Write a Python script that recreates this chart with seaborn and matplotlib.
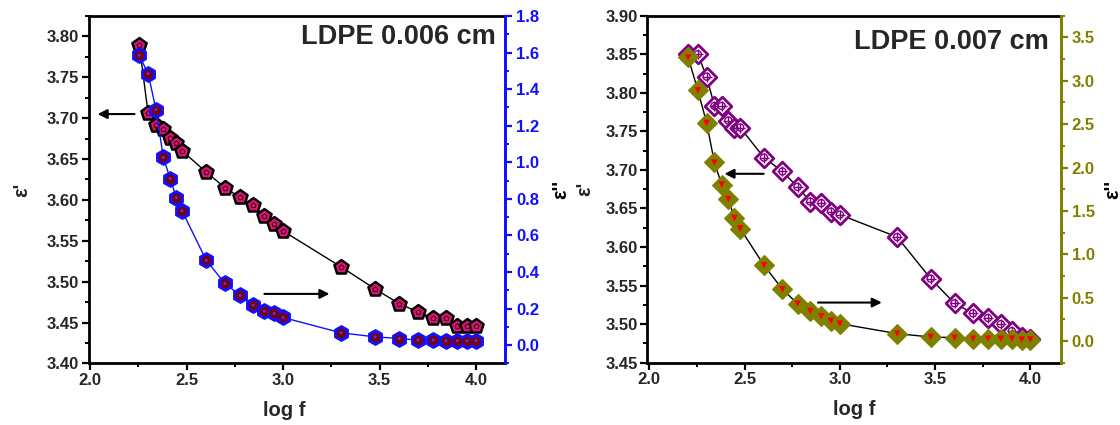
import numpy as np
import pandas as pd
import matplotlib
matplotlib.use("Agg")
import matplotlib.pyplot as plt
import seaborn as sns
from matplotlib.ticker import MultipleLocator, FormatStrFormatter

# ---------------- data ----------------
logf_006 = [2.255, 2.301, 2.342, 2.380, 2.415, 2.447, 2.477, 2.602, 2.699, 2.778,
            2.845, 2.903, 2.954, 3.000, 3.301, 3.477, 3.602, 3.699, 3.778, 3.845,
            3.903, 3.954, 4.000]
eps1_006 = [3.790, 3.706, 3.692, 3.687, 3.676, 3.669, 3.660, 3.634, 3.615, 3.603,
            3.594, 3.580, 3.571, 3.562, 3.518, 3.491, 3.473, 3.463, 3.455, 3.455,
            3.446, 3.446, 3.446]
eps2_006 = [1.585, 1.485, 1.288, 1.026, 0.911, 0.807, 0.734, 0.464, 0.337, 0.273,
            0.219, 0.186, 0.173, 0.151, 0.067, 0.045, 0.036, 0.027, 0.027, 0.024,
            0.024, 0.024, 0.024]

logf_007 = [2.204, 2.255, 2.301, 2.342, 2.380, 2.415, 2.447, 2.477, 2.602, 2.699,
            2.778, 2.845, 2.903, 2.954, 3.000, 3.301, 3.477, 3.602, 3.699, 3.778,
            3.845, 3.903, 3.954, 4.000]
eps1_007 = [3.850, 3.850, 3.821, 3.783, 3.783, 3.764, 3.754, 3.755, 3.716, 3.698,
            3.678, 3.659, 3.657, 3.646, 3.642, 3.613, 3.559, 3.527, 3.514, 3.508,
            3.500, 3.491, 3.483, 3.481]
eps2_007 = [3.27, 2.89, 2.515, 2.058, 1.804, 1.635, 1.419, 1.297, 0.873, 0.596,
            0.431, 0.346, 0.285, 0.231, 0.200, 0.085, 0.046, 0.039, 0.027, 0.027,
            0.027, 0.027, 0.016, 0.016]

titles = ["LDPE 0.006 cm", "LDPE 0.007 cm"]

df6 = pd.DataFrame({"logf": logf_006, "e1": eps1_006, "e2": eps2_006})
df7 = pd.DataFrame({"logf": logf_007, "e1": eps1_007, "e2": eps2_007})

# ---------------- style ----------------
sns.set_style("ticks")
plt.rcParams["font.family"] = ["Liberation Sans", "DejaVu Sans"]
plt.rcParams["font.weight"] = "bold"
plt.rcParams["axes.labelweight"] = "bold"

fig = plt.figure(figsize=(11.2, 4.25), dpi=100)
axL = fig.add_axes([0.0795, 0.145, 0.3714, 0.8174])
axR = fig.add_axes([0.578, 0.1466, 0.369, 0.8164])

PINK = "#e0157a"
BLUE = "#1010ff"
MAROON = "#7a0010"
PURPLE = "#800080"
OLIVE = "#808000"
RED = "#ff0000"

TICK_FS = 12
LABEL_FS = 14.5


def style_axes(ax, twin, twin_color):
    for s in ax.spines.values():
        s.set_linewidth(2.0)
        s.set_color("black")
    ax.spines["right"].set_color(twin_color)
    for s in twin.spines.values():
        s.set_linewidth(2.0)
    twin.spines["right"].set_color(twin_color)
    twin.spines["left"].set_visible(False)
    twin.spines["top"].set_visible(False)
    twin.spines["bottom"].set_visible(False)
    ax.tick_params(axis="both", which="major", direction="out", length=5, width=1.6,
                   labelsize=TICK_FS, color="black", pad=2)
    ax.tick_params(axis="both", which="minor", direction="out", length=3, width=1.4,
                   color="black")
    twin.tick_params(axis="y", which="major", direction="out", length=5, width=1.6,
                     labelsize=TICK_FS, colors=twin_color, pad=3)
    twin.tick_params(axis="y", which="minor", direction="out", length=3, width=1.4,
                     colors=twin_color)
    for lab in ax.get_xticklabels() + ax.get_yticklabels() + twin.get_yticklabels():
        lab.set_fontweight("bold")


# ---------------- left panel ----------------
twL = axL.twinx()
sns.lineplot(data=df6, x="logf", y="e1", ax=axL, color="black", lw=1.0, sort=False,
             legend=False, zorder=2)
sns.scatterplot(data=df6, x="logf", y="e1", ax=axL, marker="p", s=115, color=PINK,
                edgecolor="black", linewidth=1.8, zorder=3, legend=False)
sns.scatterplot(data=df6, x="logf", y="e1", ax=axL, marker="p", s=14, color=PINK,
                edgecolor="#400010", linewidth=0.8, zorder=4, legend=False)

sns.lineplot(data=df6, x="logf", y="e2", ax=twL, color=BLUE, lw=1.0, sort=False,
             legend=False, zorder=2)
sns.scatterplot(data=df6, x="logf", y="e2", ax=twL, marker="h", s=125, color=BLUE,
                edgecolor=BLUE, linewidth=1.0, zorder=3, legend=False)
sns.scatterplot(data=df6, x="logf", y="e2", ax=twL, marker="o", s=40, color=MAROON,
                edgecolor=MAROON, linewidth=0.5, zorder=4, legend=False)
sns.scatterplot(data=df6, x="logf", y="e2", ax=twL, marker="o", s=4, color="#4040ff",
                edgecolor="none", zorder=5, legend=False)

axL.set_xlim(1.995, 4.15)
axL.set_ylim(3.40, 3.825)
twL.set_ylim(-0.1, 1.8)
axL.xaxis.set_major_locator(MultipleLocator(0.5))
axL.xaxis.set_minor_locator(MultipleLocator(0.25))
axL.yaxis.set_major_locator(MultipleLocator(0.05))
axL.yaxis.set_minor_locator(MultipleLocator(0.025))
twL.yaxis.set_major_locator(MultipleLocator(0.2))
twL.yaxis.set_minor_locator(MultipleLocator(0.1))
axL.yaxis.set_major_formatter(FormatStrFormatter("%.2f"))
axL.xaxis.set_major_formatter(FormatStrFormatter("%.1f"))
twL.yaxis.set_major_formatter(FormatStrFormatter("%.1f"))
axL.set_xlabel("log f", fontsize=LABEL_FS, fontweight="bold", labelpad=9)
axL.xaxis.label.set_x(0.469)
axL.set_ylabel("ε'", fontsize=LABEL_FS, fontweight="bold", labelpad=11)
twL.set_ylabel("ε''", fontsize=LABEL_FS, fontweight="bold", labelpad=9, color="black")
style_axes(axL, twL, BLUE)
twL.set_zorder(axL.get_zorder() + 1)

axL.text(0.978, 0.94, titles[0], transform=axL.transAxes, ha="right", va="center",
         fontsize=19.5, fontweight="bold", zorder=6)
axL.annotate("", xy=(2.025, 3.705), xytext=(2.245, 3.705),
             arrowprops=dict(arrowstyle="-|>", color="black", lw=1.5, mutation_scale=14))
axL.annotate("", xy=(3.255, 3.485), xytext=(2.889, 3.485),
             arrowprops=dict(arrowstyle="-|>", color="black", lw=1.5, mutation_scale=14))

# ---------------- right panel ----------------
twR = axR.twinx()
sns.lineplot(data=df7, x="logf", y="e1", ax=axR, color="black", lw=1.0, sort=False,
             legend=False, zorder=2)
sns.scatterplot(data=df7, x="logf", y="e1", ax=axR, marker="D", s=90, color="white",
                edgecolor=PURPLE, linewidth=2.0, zorder=3, legend=False)
sns.scatterplot(data=df7, x="logf", y="e1", ax=axR, marker="o", s=26, color="none",
                edgecolor=PURPLE, linewidth=1.0, zorder=4, legend=False)
sns.scatterplot(data=df7, x="logf", y="e1", ax=axR, marker="+", s=42, color=PURPLE,
                linewidth=1.0, zorder=5, legend=False)

sns.lineplot(data=df7, x="logf", y="e2", ax=twR, color="black", lw=1.0, sort=False,
             legend=False, zorder=2)
sns.scatterplot(data=df7, x="logf", y="e2", ax=twR, marker="D", s=100, color=OLIVE,
                edgecolor=OLIVE, linewidth=1.0, zorder=3, legend=False)
sns.scatterplot(data=df7, x="logf", y="e2", ax=twR, marker="v", s=22, color=RED,
                edgecolor="none", zorder=4, legend=False)

axR.set_xlim(1.99, 4.159)
axR.set_ylim(3.45, 3.90)
twR.set_ylim(-0.25, 3.75)
axR.xaxis.set_major_locator(MultipleLocator(0.5))
axR.xaxis.set_minor_locator(MultipleLocator(0.25))
axR.yaxis.set_major_locator(MultipleLocator(0.05))
axR.yaxis.set_minor_locator(MultipleLocator(0.025))
twR.yaxis.set_major_locator(MultipleLocator(0.5))
twR.yaxis.set_minor_locator(MultipleLocator(0.25))
axR.yaxis.set_major_formatter(FormatStrFormatter("%.2f"))
axR.xaxis.set_major_formatter(FormatStrFormatter("%.1f"))
twR.yaxis.set_major_formatter(FormatStrFormatter("%.1f"))
axR.set_xlabel("log f", fontsize=LABEL_FS, fontweight="bold", labelpad=9)
axR.set_ylabel("ε'", fontsize=LABEL_FS, fontweight="bold", labelpad=8)
twR.set_ylabel("ε''", fontsize=LABEL_FS, fontweight="bold", labelpad=6, color="black")
style_axes(axR, twR, OLIVE)
twR.set_zorder(axR.get_zorder() + 1)

axR.text(0.971, 0.925, titles[1], transform=axR.transAxes, ha="right", va="center",
         fontsize=19.5, fontweight="bold", zorder=6)
axR.annotate("", xy=(2.38, 3.695), xytext=(2.615, 3.695),
             arrowprops=dict(arrowstyle="-|>", color="black", lw=1.5, mutation_scale=14))
axR.annotate("", xy=(3.235, 3.528), xytext=(2.871, 3.528),
             arrowprops=dict(arrowstyle="-|>", color="black", lw=1.5, mutation_scale=14))

fig.savefig("out.png", dpi=100)
